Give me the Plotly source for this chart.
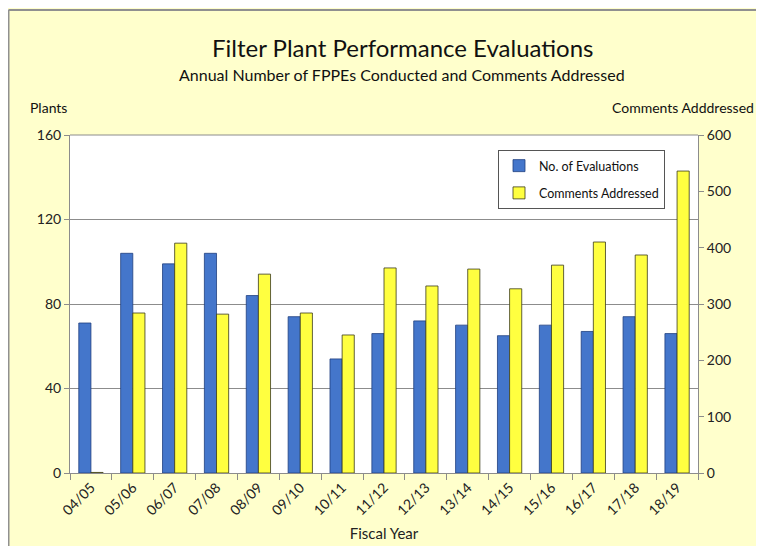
import plotly.graph_objects as go

years = ["04/05", "05/06", "06/07", "07/08", "08/09", "09/10", "10/11", "11/12",
         "12/13", "13/14", "14/15", "15/16", "16/17", "17/18", "18/19"]
evaluations = [71, 104, 99, 104, 84, 74, 54, 66, 72, 70, 65, 70, 67, 74, 66]
comments = [1, 284, 408, 282, 353, 284, 245, 364, 332, 362, 327, 369, 410, 387, 536]

FONT = "Lato"
BG = "#FFFFCC"
GRID = "#8C8C8C"

# the page adds an 8px body margin, so the figure is 8px smaller each way
W, H = 756, 538
L, R, T, B = 62, 66, 127, 73
PW, PH = W - L - R, H - T - B


def px_x(p):
    return (p - L) / PW


def px_y(p):
    return (H - B - p) / PH


fig = go.Figure()
fig.add_trace(go.Bar(
    x=years, y=evaluations, name="No. of Evaluations",
    marker=dict(color="#4476CB", line=dict(color="#1F3F7F", width=0.8)),
    offsetgroup="a", yaxis="y", legendgroup="a",
))
fig.add_trace(go.Bar(
    x=years, y=comments, name="Comments Addressed",
    marker=dict(color="#FFFF40", line=dict(color="#3A3A1A", width=0.8)),
    offsetgroup="b", yaxis="y2", legendgroup="b",
))

fig.update_layout(
    width=W, height=H,
    margin=dict(l=L, r=R, t=T, b=B),
    paper_bgcolor=BG, plot_bgcolor="white",
    font=dict(family=FONT, size=14, color="#222"),
    barmode="group", bargap=0.42, bargroupgap=0.0,
    showlegend=True,
    legend=dict(x=px_x(490), y=px_y(142), xanchor="left", yanchor="top",
                bgcolor="white", bordercolor="#555", borderwidth=1,
                font=dict(family=FONT, size=12.5, color="#111"),
                tracegroupgap=8, itemwidth=30),
    xaxis=dict(type="category", tickangle=-45, tickson="boundaries",
               ticks="outside", ticklen=6, tickcolor=GRID,
               showline=True, linecolor=GRID, linewidth=1,
               showgrid=False, tickfont=dict(size=14), automargin=False,
               title=dict(text="Fiscal Year", font=dict(size=15), standoff=11)),
    yaxis=dict(range=[0, 160], tickvals=[0, 40, 80, 120, 160],
               ticks="outside", ticklen=5, tickcolor=GRID,
               showline=True, linecolor=GRID, linewidth=1, mirror=False,
               gridcolor=GRID, gridwidth=1, zeroline=False,
               tickfont=dict(size=14), automargin=False),
    yaxis2=dict(range=[0, 600], tickvals=[0, 100, 200, 300, 400, 500, 600],
                overlaying="y", side="right",
                ticks="outside", ticklen=5, tickcolor=GRID,
                showline=True, linecolor=GRID, linewidth=1,
                showgrid=False, zeroline=False, tickfont=dict(size=14),
                automargin=False),
)

# top border of plot area
fig.add_shape(type="line", xref="paper", yref="paper", x0=0, x1=1, y0=1, y1=1,
              line=dict(color=GRID, width=1))

# outer chart border: left and top edges only
fig.add_shape(type="line", xref="paper", yref="paper",
              x0=px_x(0.5), x1=px_x(0.5), y0=px_y(H), y1=px_y(2),
              line=dict(color="#909090", width=2))
fig.add_shape(type="line", xref="paper", yref="paper",
              x0=px_x(0.5), x1=px_x(W), y0=px_y(2), y1=px_y(2),
              line=dict(color="#909090", width=2))

fig.add_annotation(text="Filter Plant Performance Evaluations", xref="paper", yref="paper",
                   x=px_x(394), y=px_y(39), xanchor="center", yanchor="middle",
                   showarrow=False, font=dict(family=FONT, size=24, color="#111"))
fig.add_annotation(text="Annual Number of FPPEs Conducted and Comments Addressed",
                   xref="paper", yref="paper", x=px_x(394), y=px_y(66),
                   xanchor="center", yanchor="middle", showarrow=False,
                   font=dict(family=FONT, size=16, color="#111"))
fig.add_annotation(text="Plants", xref="paper", yref="paper",
                   x=px_x(20), y=px_y(99), xanchor="left", yanchor="middle",
                   showarrow=False, font=dict(family=FONT, size=14, color="#111"))
fig.add_annotation(text="Comments Adddressed", xref="paper", yref="paper",
                   x=px_x(748), y=px_y(99), xanchor="right", yanchor="middle",
                   showarrow=False, font=dict(family=FONT, size=14, color="#111"))

fig.write_html("out.html")
